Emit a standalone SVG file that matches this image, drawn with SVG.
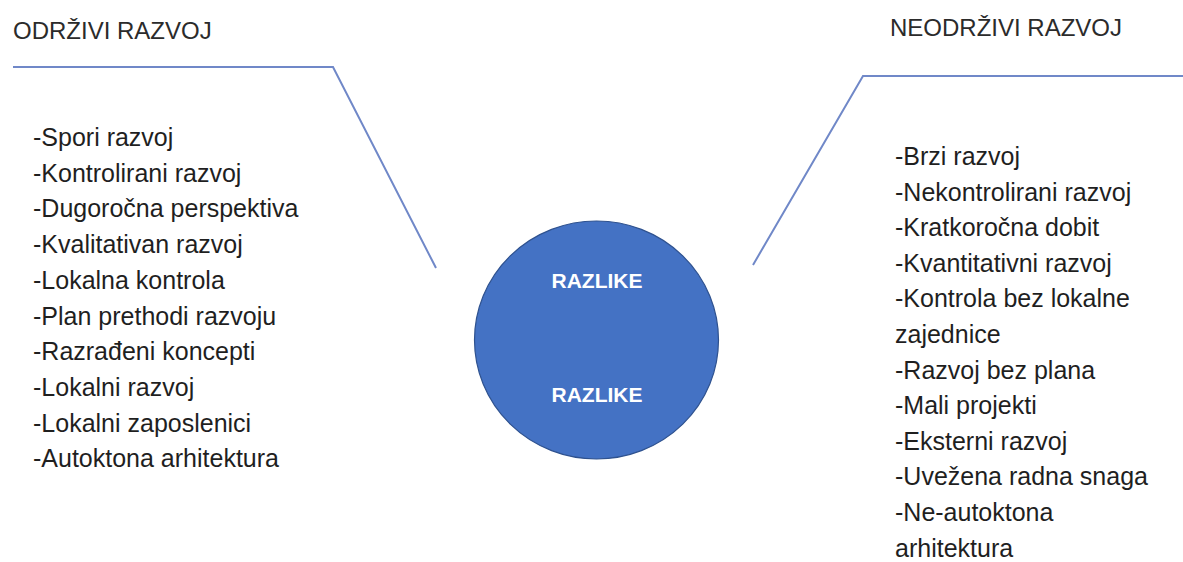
<svg xmlns="http://www.w3.org/2000/svg" width="1183" height="562" viewBox="0 0 1183 562">
  <style>
    .title { font-family: "Liberation Sans", Arial, sans-serif; font-size: 24px; fill: #2b2b2b; }
    .item { font-family: "Liberation Sans", Arial, sans-serif; font-size: 25px; fill: #1f1f1f; }
    .lbl { font-family: "Liberation Sans", Arial, sans-serif; font-size: 21px; font-weight: bold; fill: #ffffff; text-anchor: middle; }
    .conn { fill: none; stroke: #7088c8; stroke-width: 2; stroke-linejoin: miter; }
  </style>
  <rect width="1183" height="562" fill="#ffffff"/>
  <g id="connectors">
    <polyline class="conn" points="13,67 333,67 436,268"/>
    <polyline class="conn" points="1183,76 863,76 753,265"/>
  </g>
  <g id="left-node">
    <text class="title" x="13" y="39">ODRŽIVI RAZVOJ</text>
    <text class="item" x="33" y="146">-Spori razvoj</text>
    <text class="item" x="33" y="181.7">-Kontrolirani razvoj</text>
    <text class="item" x="33" y="217.4">-Dugoročna perspektiva</text>
    <text class="item" x="33" y="253.1">-Kvalitativan razvoj</text>
    <text class="item" x="33" y="288.8">-Lokalna kontrola</text>
    <text class="item" x="33" y="324.5">-Plan prethodi razvoju</text>
    <text class="item" x="33" y="360.2">-Razrađeni koncepti</text>
    <text class="item" x="33" y="395.9">-Lokalni razvoj</text>
    <text class="item" x="33" y="431.6">-Lokalni zaposlenici</text>
    <text class="item" x="33" y="467.3">-Autoktona arhitektura</text>
  </g>
  <g id="center-node">
    <ellipse cx="596.5" cy="340" rx="122" ry="119" fill="#4472c4" stroke="#2f528f" stroke-width="1.2"/>
    <text class="lbl" x="597" y="288">RAZLIKE</text>
    <text class="lbl" x="597" y="402">RAZLIKE</text>
  </g>
  <g id="right-node">
    <text class="title" x="890" y="36">NEODRŽIVI RAZVOJ</text>
    <text class="item" x="895" y="165">-Brzi razvoj</text>
    <text class="item" x="895" y="200.6">-Nekontrolirani razvoj</text>
    <text class="item" x="895" y="236.2">-Kratkoročna dobit</text>
    <text class="item" x="895" y="271.8">-Kvantitativni razvoj</text>
    <text class="item" x="895" y="307.4">-Kontrola bez lokalne</text>
    <text class="item" x="895" y="343">zajednice</text>
    <text class="item" x="895" y="378.6">-Razvoj bez plana</text>
    <text class="item" x="895" y="414.2">-Mali projekti</text>
    <text class="item" x="895" y="449.8">-Eksterni razvoj</text>
    <text class="item" x="895" y="485.4">-Uvežena radna snaga</text>
    <text class="item" x="895" y="521">-Ne-autoktona</text>
    <text class="item" x="895" y="556.6">arhitektura</text>
  </g>
</svg>
